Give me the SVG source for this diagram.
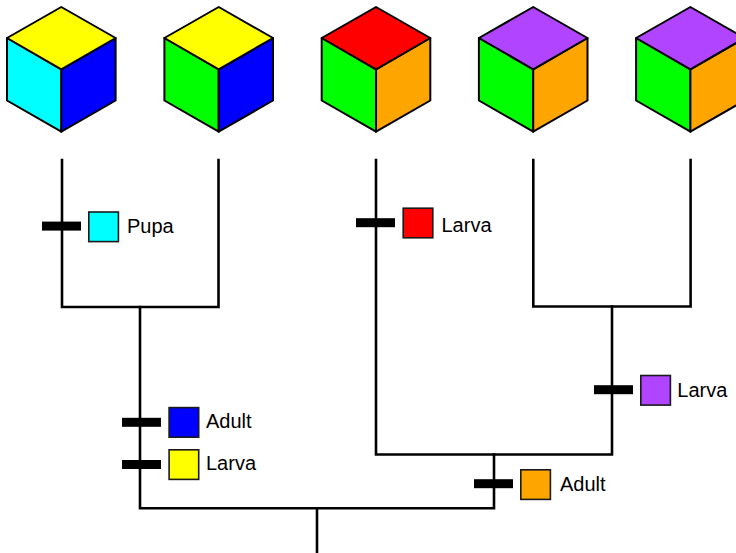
<svg xmlns="http://www.w3.org/2000/svg" width="736" height="553" viewBox="0 0 736 553">
  <style>
    .face { stroke: #000; stroke-width: 2; stroke-linejoin: round; }
    .edge { fill: none; stroke: #000; stroke-width: 2.6; stroke-linecap: square; stroke-linejoin: miter; }
    .bar { fill: #000; }
    .swatch { stroke: #1a1a1a; stroke-width: 1.6; }
    .lbl { font-family: "Liberation Sans", Arial, sans-serif; font-size: 20px; fill: #000; }
  </style>
  <defs>
    <!-- cube faces around a vertical axis at x=0 -->
    <path id="topFace" d="M0,7 L54.3,38 L0,69.3 L-54.3,38 Z"/>
    <path id="leftFace" d="M-54.3,38 L0,69.3 L0,131.7 L-54.3,100.5 Z"/>
    <path id="rightFace" d="M0,69.3 L54.3,38 L54.3,100.5 L0,131.7 Z"/>
  </defs>

  <rect width="736" height="553" fill="#fff"/>

  <!-- tree connectors -->
  <g id="connectors">
    <path class="edge" d="M62,160 V307 H218.5 V160"/>
    <path class="edge" d="M140,307 V508.3 H494 V454.5"/>
    <path class="edge" d="M376,160 V454.5 H612 V306.5"/>
    <path class="edge" d="M533.3,160 V306.5 H690.6 V160"/>
    <path class="edge" d="M317,508.3 V553"/>
  </g>

  <!-- cubes -->
  <g id="cube1" transform="translate(61.3,0)">
    <use href="#leftFace" class="face" fill="#00FFFF"/>
    <use href="#rightFace" class="face" fill="#0000FF"/>
    <use href="#topFace" class="face" fill="#FFFF00"/>
  </g>
  <g id="cube2" transform="translate(218.7,0)">
    <use href="#leftFace" class="face" fill="#00FF00"/>
    <use href="#rightFace" class="face" fill="#0000FF"/>
    <use href="#topFace" class="face" fill="#FFFF00"/>
  </g>
  <g id="cube3" transform="translate(376,0)">
    <use href="#leftFace" class="face" fill="#00FF00"/>
    <use href="#rightFace" class="face" fill="#FFA500"/>
    <use href="#topFace" class="face" fill="#FF0000"/>
  </g>
  <g id="cube4" transform="translate(533.2,0)">
    <use href="#leftFace" class="face" fill="#00FF00"/>
    <use href="#rightFace" class="face" fill="#FFA500"/>
    <use href="#topFace" class="face" fill="#B044FF"/>
  </g>
  <g id="cube5" transform="translate(690.4,0)">
    <use href="#leftFace" class="face" fill="#00FF00"/>
    <use href="#rightFace" class="face" fill="#FFA500"/>
    <use href="#topFace" class="face" fill="#B044FF"/>
  </g>

  <!-- character-state changes -->
  <g id="mark-pupa">
    <rect class="bar" x="42" y="221.6" width="39" height="9"/>
    <rect class="swatch" x="88.8" y="212" width="29.6" height="29.6" fill="#00FFFF"/>
    <text class="lbl" x="127" y="233.3">Pupa</text>
  </g>
  <g id="mark-larva-red">
    <rect class="bar" x="356" y="218.2" width="39" height="9"/>
    <rect class="swatch" x="403.2" y="208.2" width="29.6" height="29.6" fill="#FF0000"/>
    <text class="lbl" x="441.5" y="231.7">Larva</text>
  </g>
  <g id="mark-larva-purple">
    <rect class="bar" x="594" y="385.2" width="39" height="9"/>
    <rect class="swatch" x="640.8" y="375.5" width="29.6" height="29.6" fill="#B044FF"/>
    <text class="lbl" x="677.3" y="397">Larva</text>
  </g>
  <g id="mark-adult-blue">
    <rect class="bar" x="122" y="417.8" width="39" height="9"/>
    <rect class="swatch" x="169.1" y="407.6" width="29.6" height="29.6" fill="#0000FF"/>
    <text class="lbl" x="206" y="427.7">Adult</text>
  </g>
  <g id="mark-larva-yellow">
    <rect class="bar" x="122" y="460" width="39" height="9"/>
    <rect class="swatch" x="169.1" y="449.8" width="29.6" height="29.6" fill="#FFFF00"/>
    <text class="lbl" x="206" y="470">Larva</text>
  </g>
  <g id="mark-adult-orange">
    <rect class="bar" x="474" y="479.2" width="39" height="9"/>
    <rect class="swatch" x="520.8" y="469.8" width="29.6" height="29.6" fill="#FFA500"/>
    <text class="lbl" x="560" y="490.5">Adult</text>
  </g>
</svg>
